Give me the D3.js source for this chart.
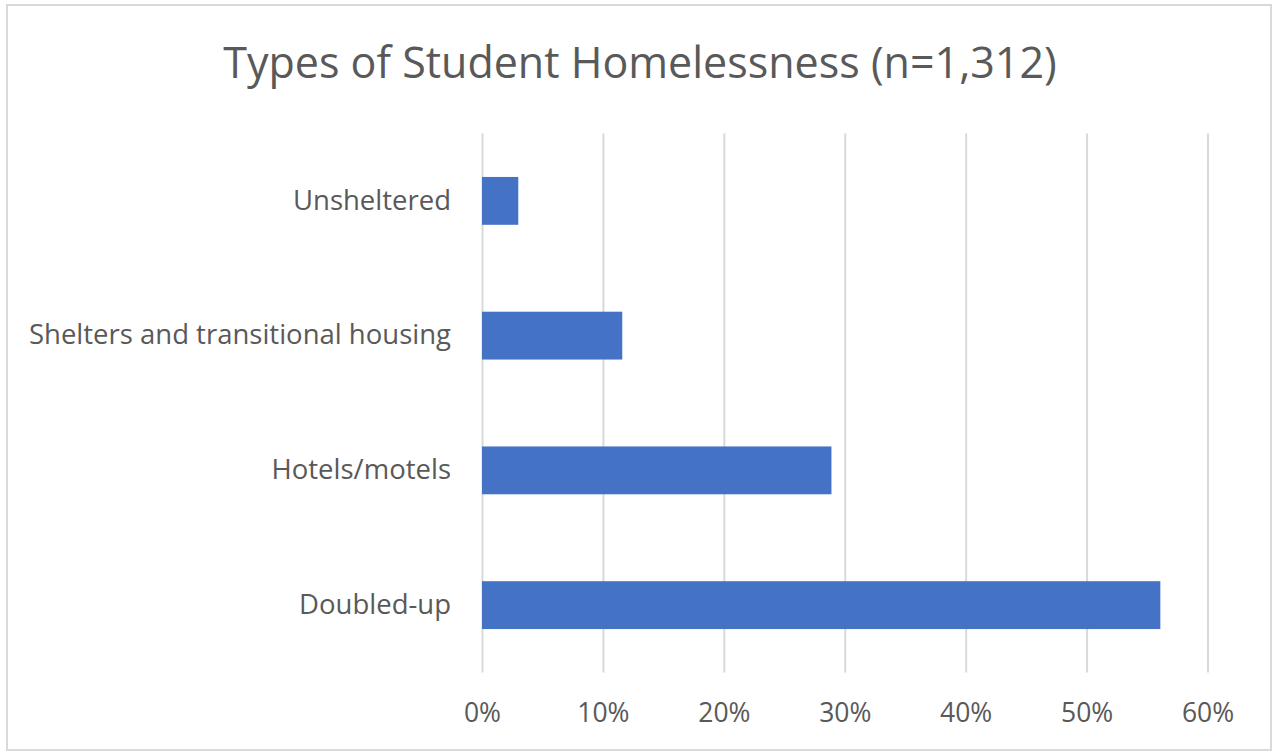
<!DOCTYPE html>
<html><head><meta charset="utf-8">
<script src="https://cdn.jsdelivr.net/npm/d3@7"></script>
<style>body{margin:0;background:#fff}svg{display:block}</style>
</head><body>
<svg id="c" width="1275" height="751"></svg>
<script>
const categories = ["Unsheltered", "Shelters and transitional housing", "Hotels/motels", "Doubled-up"];
const values = [0.030, 0.116, 0.289, 0.561];
const tickValues = [0, 0.1, 0.2, 0.3, 0.4, 0.5, 0.6];
const title = "Types of Student Homelessness (n=1,312)";

const svg = d3.select("#c");
const font = "'Open Sans', 'Noto Sans', sans-serif";
svg.append("rect").attr("x", 7).attr("y", 5).attr("width", 1264).attr("height", 745)
  .attr("fill", "#fff").attr("stroke", "#d9d9d9").attr("stroke-width", 2);

const x = d3.scaleLinear().domain([0, 0.6]).range([482, 1207.5]);
const y = d3.scaleBand().domain(categories).range([133.5, 672.5]).paddingInner(0.645).paddingOuter(0.3225);

const grid = svg.append("g").attr("transform", "translate(0,672.5)")
  .call(d3.axisBottom(x).tickValues(tickValues).tickSize(-539).tickFormat(d3.format(".0%")));
grid.select(".domain").remove();
grid.selectAll(".tick line").attr("stroke", "#d9d9d9").attr("stroke-width", 2);
grid.selectAll(".tick text").attr("y", 31).attr("fill", "#595959").attr("font-size", 26.5).attr("font-family", font);

svg.append("g").selectAll("rect").data(categories).join("rect")
  .attr("x", x(0)).attr("y", d => y(d)).attr("height", y.bandwidth())
  .attr("width", (d, i) => x(values[i]) - x(0)).attr("fill", "#4472c4");

const yax = svg.append("g").attr("transform", "translate(482,0)")
  .call(d3.axisLeft(y).tickSize(0).tickPadding(31));
yax.select(".domain").remove();
yax.selectAll(".tick text").attr("fill", "#595959").attr("font-size", 27.5).attr("font-family", font);

svg.append("text").attr("x", 640).attr("y", 78).attr("text-anchor", "middle")
  .attr("font-size", 43).attr("fill", "#595959").attr("font-family", font).text(title);
</script>
</body></html>
